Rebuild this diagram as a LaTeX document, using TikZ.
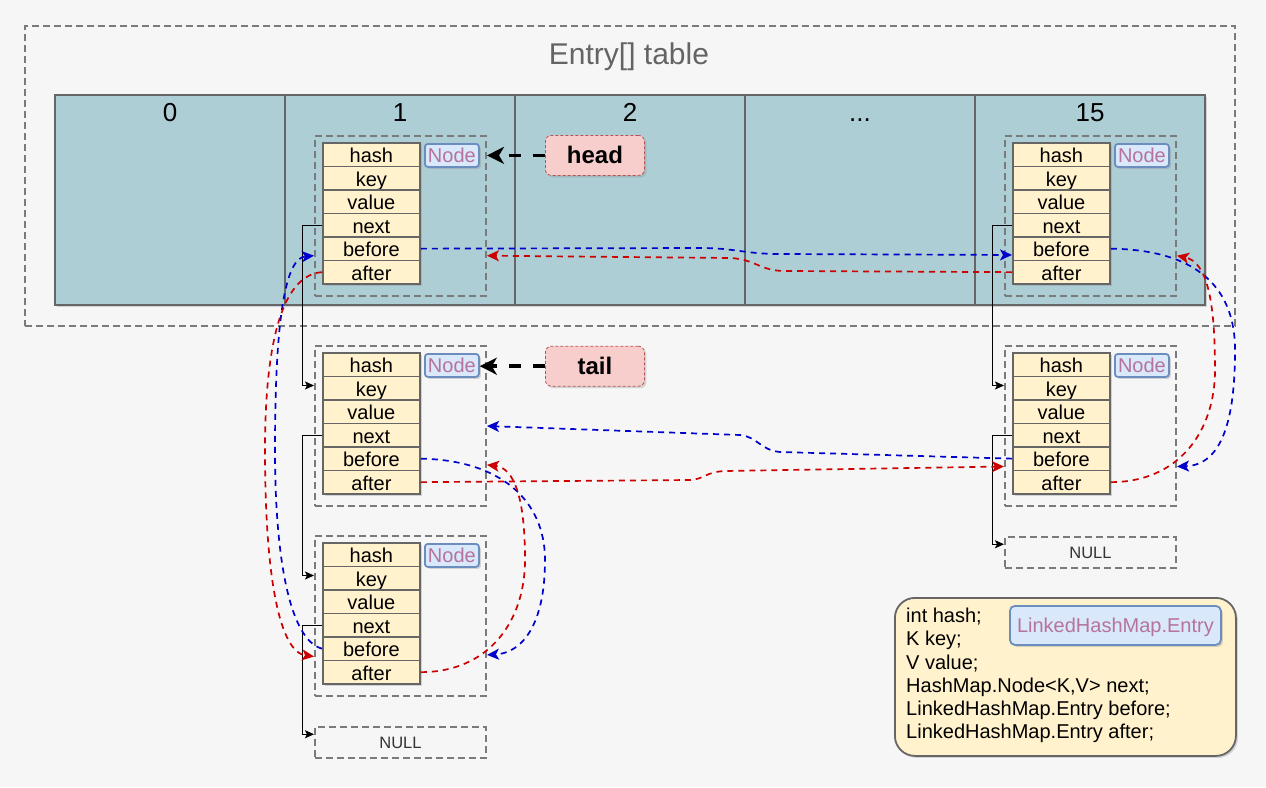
\documentclass[tikz,border=0pt]{standalone}
\usepackage{fontspec}
\setmainfont{Liberation Sans}
\usetikzlibrary{arrows.meta, positioning, calc, shadows}
\definecolor{bgcolor}{RGB}{246,246,246}
\definecolor{cellfill}{RGB}{174,206,213}
\definecolor{borderline}{RGB}{102,102,102}
\definecolor{groupline}{RGB}{122,122,122}
\definecolor{fieldfill}{RGB}{255,242,204}
\definecolor{tagfill}{RGB}{218,232,252}
\definecolor{tagline}{RGB}{108,142,191}
\definecolor{tagtext}{RGB}{181,115,157}
\definecolor{pointerfill}{RGB}{248,206,204}
\definecolor{pointerline}{RGB}{184,84,80}
\definecolor{beforeblue}{RGB}{0,0,204}
\definecolor{afterred}{RGB}{204,0,0}
\definecolor{titlegray}{RGB}{100,100,100}

\newcommand{\celldots}{...}
% one entry: name, left and top of its field column
\newcommand{\entrynode}[3]{%
  \node[groupbox, minimum width=171pt, minimum height=160pt] (#1) at (#2-8,#3-7) {};
  \foreach \f [count=\i from 0] in {hash,key,value,next,before,after}
    \node[fieldbox] (#1-\f) at (#2,{#3+23.5*\i}) {\f};
  \node[nodetag] (#1-tag) at (#2+102,#3+1) {Node};
}

\tikzset{
  boxshadow/.style={drop shadow={shadow xshift=2pt, shadow yshift=-2pt, opacity=0.3}},
  groupbox/.style={draw=groupline, line width=2pt, dash pattern=on 7pt off 4pt, anchor=north west, inner sep=0pt},
  tablecell/.style={draw=borderline, line width=2pt, fill=cellfill, anchor=north west, minimum width=230pt, minimum height=210pt, inner sep=0pt, boxshadow},
  celllabel/.style={font=\fontsize{26}{30}\selectfont, text height=19pt, text depth=0pt},
  fieldbox/.style={draw=borderline, line width=1.8pt, fill=fieldfill, anchor=north west, minimum width=97pt, minimum height=23.5pt, inner sep=0pt, text height=17pt, text depth=1pt, font=\fontsize{20}{22}\selectfont, boxshadow},
  nodetag/.style={draw=tagline, line width=1.8pt, fill=tagfill, text=tagtext, rounded corners=3pt, anchor=north west, minimum width=54pt, minimum height=23pt, inner sep=1pt, text height=16pt, text depth=1pt, font=\fontsize{20}{22}\selectfont, boxshadow},
  pointerbox/.style={draw=pointerline, line width=0.8pt, dash pattern=on 3pt off 2pt, fill=pointerfill, rounded corners=6pt, anchor=north west, minimum width=99pt, minimum height=40pt, font=\fontsize{24}{28}\selectfont\bfseries, boxshadow},
  nullbox/.style={groupbox, minimum width=171pt, minimum height=31pt, text=black!80, font=\fontsize{16.5}{20}\selectfont},
  nextarrow/.style={draw=black, line width=0.9pt, -{Stealth[length=9pt, width=8pt, inset=2pt]}},
  beforelink/.style={draw=beforeblue, line width=1.7pt, dash pattern=on 6pt off 5pt, -{Stealth[length=12pt, width=11pt, inset=3pt]}},
  afterlink/.style={beforelink, draw=afterred},
  pointerarrow/.style={draw=black, line width=3.5pt, dash pattern=on 12pt off 12pt, -{Stealth[length=17pt, width=17pt, inset=5pt]}}
}

\begin{document}
\begin{tikzpicture}[x=1pt, y=-1pt]
  \fill[bgcolor] (0,0) rectangle (1266,787);
  \useasboundingbox (0,0) rectangle (1266,787);

  % the bucket array
  \node[groupbox, minimum width=1210pt, minimum height=300pt] (table) at (24,25) {};
  \node[font=\fontsize{30}{34}\selectfont, text=titlegray] (title) at (629,57) {Entry[] table};
  \foreach \lbl [count=\i from 0] in {0,1,2,\celldots,15} {
    \node[tablecell] (c\i) at (54+230*\i,94) {};
    \node[celllabel, below=5pt of c\i.north] (l\i) {\lbl};
  }

  % entries
  \entrynode{n1}{322}{142}
  \entrynode{n15}{1012}{142}
  \entrynode{n1b}{322}{352}
  \entrynode{n15b}{1012}{352}
  \entrynode{n1c}{322}{542}

  \node[nullbox, below=29pt of n1c] (null1) {NULL};
  \node[nullbox, below=29pt of n15b] (null2) {NULL};

  \node[pointerbox] (head) at (545,135) {head};
  \node[pointerbox, below=170pt of head] (tail) {tail};

  % legend
  \node[draw=borderline, line width=1.8pt, fill=fieldfill, rounded corners=20pt, anchor=north west, minimum width=341pt, minimum height=158pt, boxshadow] (legend) at (894,597) {};
  \node[anchor=north west, inner sep=0pt, align=left, font=\fontsize{20}{23.2}\selectfont] (legendtext) at (906,608)
    {int hash;\\K key;\\V value;\\HashMap.Node<K,V> next;\\LinkedHashMap.Entry before;\\LinkedHashMap.Entry after;};
  \node[nodetag, minimum width=211pt, minimum height=39pt, rounded corners=5pt, font=\fontsize{20}{24}\selectfont] (legendtag) at (1009,605) {LinkedHashMap.Entry};

  % next pointers
  \draw[nextarrow] (n1-next.west) -- ++(-20,0) |- ($(n1b.north west)!0.25!(n1b.south west)$);
  \draw[nextarrow] (n1b-next.west) -- ++(-20,0) |- ($(n1c.north west)!0.25!(n1c.south west)$);
  \draw[nextarrow] (n1c-next.west) -- ++(-20,0) |- ($(null1.north west)!0.25!(null1.south west)$);
  \draw[nextarrow] (n15-next.west) -- ++(-20,0) |- ($(n15b.north west)!0.25!(n15b.south west)$);
  \draw[nextarrow] (n15b-next.west) -- ++(-20,0) |- ($(null2.north west)!0.25!(null2.south west)$);

  % before links
  \draw[beforelink] (n1-before.east) -- (700,248) .. controls (735,248) and (745,254) .. (780,254)
    -- ($(n15-before.north west)!0.75!(n15-before.south west)$);
  \draw[beforelink] (n15-before.east) .. controls (1200,250) and (1235,290) .. (1235,350)
    .. controls (1235,420) and (1222,465) .. ($(n15b.north east)!0.75!(n15b.south east)$);
  \draw[beforelink] (n15b-before.west) -- (780,452) .. controls (760,450) and (758,437) .. (740,435)
    -- ($(n1b.north east)!0.5!(n1b.south east)$);
  \draw[beforelink] (n1b-before.east) .. controls (500,460) and (545,500) .. (545,560)
    .. controls (545,625) and (522,653) .. ($(n1c.north east)!0.74!(n1c.south east)$);
  \draw[beforelink] (n1c-before.west) .. controls (290,640) and (275,560) .. (275,450)
    .. controls (275,320) and (285,258) .. ($(n1.north west)!0.745!(n1.south west)$);

  % after links
  \draw[afterlink] (n15-after.west) -- (785,271) .. controls (760,271) and (755,259) .. (730,258)
    -- ($(n1.north east)!0.745!(n1.south east)$);
  \draw[afterlink] (n15b-after.east) .. controls (1180,482) and (1215,430) .. (1215,370)
    .. controls (1215,300) and (1207,262) .. ($(n15.north east)!0.745!(n15.south east)$);
  \draw[afterlink] (n1b-after.east) -- (690,480) .. controls (705,479) and (705,472) .. (725,471)
    -- ($(n15b.north west)!0.75!(n15b.south west)$);
  \draw[afterlink] (n1c-after.east) .. controls (490,672) and (525,620) .. (525,560)
    .. controls (525,500) and (515,468) .. ($(n1b.north east)!0.74!(n1b.south east)$);
  \draw[afterlink] (n1-after.west) .. controls (280,275) and (265,350) .. (265,450)
    .. controls (265,580) and (280,652) .. ($(n1c.north west)!0.75!(n1c.south west)$);

  % head and tail
  \draw[pointerarrow] (head.west) -- (head.west -| n1.east);
  \draw[pointerarrow] (tail.west) -- (tail.west -| n1b-tag.east);
\end{tikzpicture}
\end{document}
